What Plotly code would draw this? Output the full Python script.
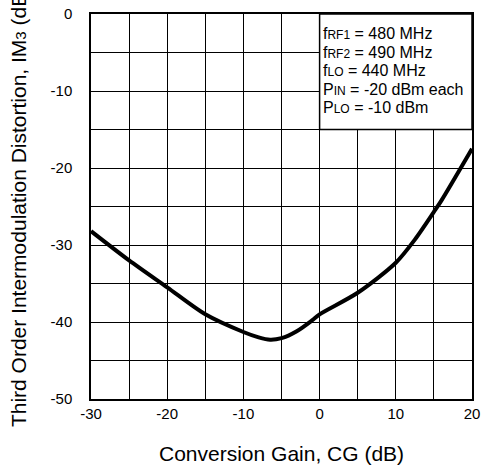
import plotly.graph_objects as go

# Data
cg_db = [-30, -25, -20, -15, -10, -8, -6.5, -5, -3, -1, 0, 5, 10, 12.5, 15, 16, 20]
im3_db = [-28.2, -32.0, -35.5, -39.0, -41.3, -42.0, -42.3, -42.1, -41.2, -39.8, -39.0,
          -36.2, -32.3, -29.3, -25.7, -24.2, -17.5]

x_tickvals = [-30, -25, -20, -15, -10, -5, 0, 5, 10, 15, 20]
x_ticktext = ["-30", "", "-20", "", "-10", "", "0", "", "10", "", "20"]
y_tickvals = [0, -5, -10, -15, -20, -25, -30, -35, -40, -45, -50]
y_ticktext = ["0", "", "-10", "", "-20", "", "-30", "", "-40", "", "-50"]

x_title = "Conversion Gain, CG (dB)"
y_title = "Third Order Intermodulation Distortion, IM<span style='font-size:15px'>3</span> (dB)"

cond_lines = [
    "f<span style='font-size:12px'>RF1</span> = 480 MHz",
    "f<span style='font-size:12px'>RF2</span> = 490 MHz",
    "f<span style='font-size:12px'>LO</span> = 440 MHz",
    "P<span style='font-size:12px'>IN</span> = -20 dBm each",
    "P<span style='font-size:12px'>LO</span> = -10 dBm",
]
cond_y = [-2.5, -4.95, -7.3, -9.75, -12.2]

font_family = "Liberation Sans, Arial, sans-serif"

fig = go.Figure()
fig.add_trace(go.Scatter(
    x=cg_db, y=im3_db, mode="lines",
    line=dict(color="black", width=4, shape="spline", smoothing=0.8),
    showlegend=False, hoverinfo="skip",
))

fig.add_shape(type="rect", xref="x", yref="y", x0=0, x1=20, y0=-15, y1=0,
              fillcolor="white", line=dict(color="black", width=1.5), layer="above")

for t, yy in zip(cond_lines, cond_y):
    fig.add_annotation(x=0, y=yy, xref="x", yref="y", text=t, showarrow=False,
                       xanchor="left", yanchor="middle", xshift=1,
                       font=dict(size=16, color="black", family=font_family))

# axis titles placed as annotations for exact positioning
fig.add_annotation(x=0.5, y=-0.141, xref="paper", yref="paper", text=x_title,
                   showarrow=False, xanchor="center", yanchor="middle",
                   font=dict(size=21, color="black", family=font_family))
fig.add_annotation(x=-0.19, y=0.5, xref="paper", yref="paper", text=y_title,
                   showarrow=False, xanchor="center", yanchor="middle", textangle=-90,
                   font=dict(size=21, color="black", family=font_family))

fig.update_layout(
    width=482, height=467,
    margin=dict(l=91, r=10, t=14, b=68.3),
    paper_bgcolor="white", plot_bgcolor="white",
    font=dict(family=font_family, color="black"),
    xaxis=dict(
        range=[-30, 20], tickvals=x_tickvals, ticktext=x_ticktext,
        showgrid=True, gridcolor="black", gridwidth=1.3, automargin=False,
        zeroline=False, showline=True, linecolor="black", linewidth=1.5, mirror=True,
        ticks="", ticklabelstandoff=0, tickfont=dict(size=15),
        ticklabeloverflow="allow",
    ),
    yaxis=dict(
        range=[-50, 0], tickvals=y_tickvals, ticktext=y_ticktext,
        showgrid=True, gridcolor="black", gridwidth=1.3, automargin=False,
        zeroline=False, showline=True, linecolor="black", linewidth=1.5, mirror=True,
        ticks="", ticklabelstandoff=14, tickfont=dict(size=15),
        ticklabeloverflow="allow",
    ),
)

# remove the default page margin so the 482x467 figure fills the window exactly
fig.write_html("out.html", config={"displayModeBar": False},
               post_script="document.body.style.margin='0px';")
